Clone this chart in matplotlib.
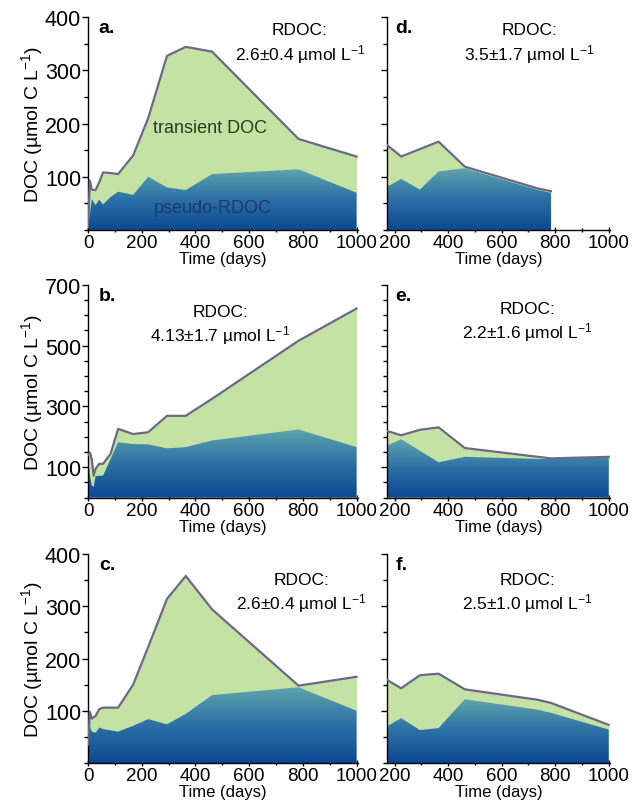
import numpy as np
import matplotlib.pyplot as plt
from matplotlib.ticker import MultipleLocator, FixedLocator
from matplotlib.colors import LinearSegmentedColormap

plt.rcParams['font.family'] = ['Liberation Sans', 'DejaVu Sans']
plt.rcParams['mathtext.default'] = 'regular'

# sampling days, left column (0-1000 d)
days_a = [0, 7, 14, 28, 42, 56, 84, 112, 168, 224, 294, 364, 462, 784, 1000]
top_a = [5, 93, 76, 75, 90, 108, 107, 105, 140, 210, 327, 344, 335, 171, 138]
bot_a = [5, 30, 58, 47, 57, 48, 62, 72, 66, 100, 80, 75, 105, 114, 70]

days_b = [0, 7, 14, 21, 28, 42, 56, 84, 112, 168, 224, 294, 364, 462, 784, 1000]
top_b = [140, 148, 127, 72, 95, 111, 111, 144, 226, 209, 215, 269, 269, 325, 516, 622]
bot_b = [130, 72, 40, 35, 70, 72, 72, 127, 182, 176, 175, 162, 166, 188, 224, 166]

days_c = [0, 7, 14, 28, 42, 56, 112, 168, 224, 294, 364, 462, 784, 1000]
top_c = [35, 98, 85, 90, 103, 106, 106, 150, 222, 314, 358, 294, 148, 165]
bot_c = [35, 70, 60, 58, 68, 65, 60, 71, 84, 74, 94, 130, 145, 100]

# right column (from day 168)
days_d = [168, 224, 294, 364, 462, 735, 784]
top_d = [161, 138, 152, 166, 119, 78, 73]
bot_d = [80, 96, 76, 110, 116, 75, 70]

days_e = [168, 224, 294, 364, 462, 735, 784, 1000]
top_e = [220, 205, 223, 231, 163, 134, 129, 134]
bot_e = [170, 192, 154, 116, 134, 127, 127, 132]

days_f = [168, 224, 294, 364, 462, 735, 784, 1000]
top_f = [160, 143, 168, 171, 141, 121, 115, 73]
bot_f = [69, 86, 63, 67, 122, 102, 96, 64]

rdoc_text = ['2.6±0.4', '4.13±1.7', '2.6±0.4', '3.5±1.7', '2.2±1.6', '2.5±1.0']
letters = ['a.', 'b.', 'c.', 'd.', 'e.', 'f.']

green = '#c4e2a3'
line_col = '#6c6886'
blues = LinearSegmentedColormap.from_list('rdoc', ['#0b4991', '#2b70a5', '#5ea4ac'])

fig = plt.figure(figsize=(6.35, 8.12), dpi=100)

rows = [(0.7155, 0.2623, 400, [100, 200, 300, 400]),
        (0.386, 0.262, 700, [100, 300, 500, 700]),
        (0.0591, 0.2574, 400, [100, 200, 300, 400])]

left_data = [(days_a, top_a, bot_a), (days_b, top_b, bot_b), (days_c, top_c, bot_c)]
right_data = [(days_d, top_d, bot_d), (days_e, top_e, bot_e), (days_f, top_f, bot_f)]

txt_pos_left = [(0.785, 0.975), (0.49, 0.91), (0.79, 0.915)]
txt_pos_right = [(0.64, 0.975), (0.63, 0.925), (0.63, 0.915)]


def draw(ax, d, top, bot, xlim, ymax):
    d = np.array(d, dtype=float)
    top = np.array(top, dtype=float)
    bot = np.array(bot, dtype=float)
    ax.fill_between(d, 0, top, color=green, lw=0, zorder=1)
    poly = ax.fill_between(d, 0, bot, facecolor='none', lw=0, zorder=2)
    grad = np.linspace(0, 1, 256)[:, None]
    im = ax.imshow(grad, extent=[d[0], d[-1], 0, bot.max()], origin='lower',
                   aspect='auto', cmap=blues, zorder=2)
    im.set_clip_path(poly.get_paths()[0], transform=ax.transData)
    ax.plot(d, top, color=line_col, lw=1.6, zorder=3)
    ax.set_xlim(*xlim)
    ax.set_ylim(0, ymax)


for i, (bottom, height, ymax, yt) in enumerate(rows):
    for j in range(2):
        if j == 0:
            ax = fig.add_axes([0.1386, bottom, 0.425, height])
            d, top, bot = left_data[i]
            draw(ax, d, top, bot, (0, 1005), ymax)
            ax.set_xticks([0, 200, 400, 600, 800, 1000])
            ax.xaxis.set_minor_locator(FixedLocator([100, 300, 500, 700, 900]))
            ax.set_yticks(yt)
            ax.set_ylabel('DOC (µmol C L$^{-1}$)', fontsize=14, labelpad=0)
            tx, ty = txt_pos_left[i]
            rt = rdoc_text[i]
            let = letters[i]
        else:
            ax = fig.add_axes([0.609, bottom, 0.3517, height])
            d, top, bot = right_data[i]
            draw(ax, d, top, bot, (170, 1005), ymax)
            ax.set_xticks([200, 400, 600, 800, 1000])
            ax.xaxis.set_minor_locator(FixedLocator([300, 500, 700, 900]))
            ax.set_yticks(yt)
            ax.set_yticklabels([])
            tx, ty = txt_pos_right[i]
            rt = rdoc_text[i + 3]
            let = letters[i + 3]
        ax.yaxis.set_minor_locator(MultipleLocator(50))
        for s in ['top', 'right']:
            ax.spines[s].set_visible(False)
        for s in ['left', 'bottom']:
            ax.spines[s].set_linewidth(1.0)
        ax.tick_params(axis='both', which='major', length=4, width=1, pad=1)
        ax.tick_params(axis='x', labelsize=13.5)
        ax.tick_params(axis='y', labelsize=15.5)
        ax.tick_params(axis='both', which='minor', length=3, width=1)
        ax.tick_params(axis='x', which='both', direction='inout')
        ax.set_xlabel('Time (days)', fontsize=12, labelpad=0)
        ax.text(0.04, 0.99, let, transform=ax.transAxes, fontsize=14,
                fontweight='bold', va='top', ha='left')
        ax.text(tx, ty, 'RDOC:\n' + rt + ' µmol L$^{-1}$', transform=ax.transAxes,
                fontsize=12.5, va='top', ha='center', linespacing=1.25)
        if i == 0 and j == 0:
            ax.text(455, 193, 'transient DOC', fontsize=13, color='#24401a',
                    ha='center', va='center', zorder=4)
            ax.text(465, 43, 'pseudo-RDOC', fontsize=13, color='#1a3a6a',
                    ha='center', va='center', zorder=4)

fig.savefig('out.png', dpi=100)
